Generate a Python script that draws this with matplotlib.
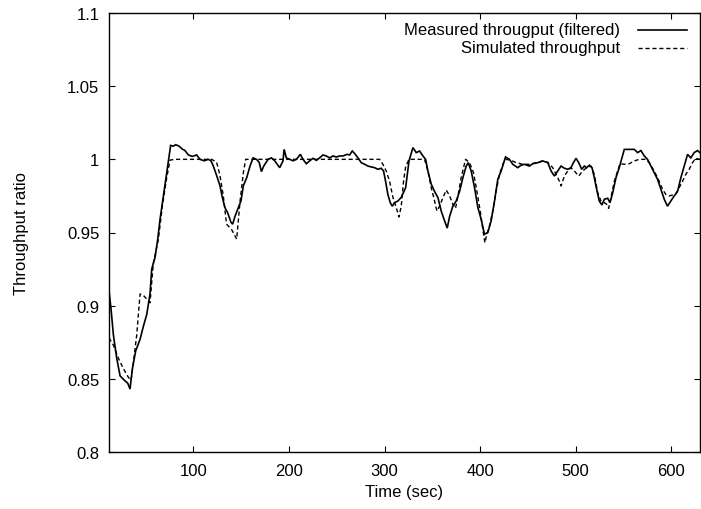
import matplotlib
matplotlib.use("Agg")
import matplotlib.pyplot as plt
from matplotlib.ticker import FormatStrFormatter, FuncFormatter

plt.rcParams['font.family'] = ['Liberation Sans', 'DejaVu Sans']

# measured throughput (filtered)
meas_t = [11.6, 13.7, 16.2, 19.7, 23.2, 27.7, 31.2, 33.6, 36.1, 39.5, 44.1, 47.6,
          51.1, 54.5, 56.3, 59.8, 62.5, 65.0, 68.5, 72.0, 76.1, 78.9, 81.4, 84.9,
          88.3, 91.1, 94.6, 98.8, 103.3, 106.8, 111.3, 115.5, 118.3, 120.7, 124.2,
          127.7, 130.2, 132.9, 135.7, 139.2, 141.0, 143.4, 146.9, 149.7, 152.2,
          155.7, 159.2, 162.4, 165.9, 168.7, 171.1, 173.5, 178.1, 181.5, 185.0,
          190.2, 193.7, 194.8, 197.2, 200.7, 204.2, 207.7, 211.8, 214.6, 218.1,
          221.6, 225.1, 228.6, 232.0, 235.5, 239.0, 242.5, 246.0, 249.5, 252.9,
          256.4, 260.6, 263.4, 266.2, 268.6, 272.1, 275.6, 279.1, 282.6, 286.0,
          289.5, 293.0, 296.5, 298.9, 301.0, 303.4, 305.9, 308.0, 310.4, 313.9,
          317.4, 319.8, 322.0, 325.5, 329.6, 333.1, 336.6, 340.1, 342.9, 345.3,
          348.8, 352.3, 355.8, 359.2, 362.7, 365.5, 368.0, 371.4, 374.9, 378.4,
          381.9, 385.4, 387.5, 390.6, 394.1, 397.6, 401.0, 404.5, 408.0, 411.5,
          415.0, 418.4, 421.9, 426.5, 430.6, 434.1, 439.3, 442.8, 446.3, 451.5,
          455.0, 460.2, 465.5, 470.7, 474.2, 477.6, 481.1, 484.6, 488.1, 491.6,
          495.0, 497.5, 500.3, 503.1, 506.2, 509.0, 511.4, 514.2, 517.0, 519.4,
          521.9, 524.6, 527.4, 529.9, 533.4, 535.8, 538.6, 542.1, 545.5, 548.3,
          550.8, 556.0, 561.2, 564.7, 568.2, 571.7, 575.1, 578.6, 582.1, 585.6,
          589.1, 592.6, 596.0, 599.5, 603.0, 606.5, 610.0, 613.5, 617.0, 620.4,
          623.9, 627.4, 629.8]
meas_v = [0.910, 0.898, 0.880, 0.864, 0.852, 0.849, 0.847, 0.843, 0.857, 0.869,
          0.877, 0.886, 0.894, 0.908, 0.925, 0.933, 0.945, 0.959, 0.975, 0.991,
          1.0095, 1.009, 1.010, 1.009, 1.007, 1.006, 1.003, 1.002, 1.003, 1.000,
          0.999, 1.000, 0.999, 0.9955, 0.989, 0.982, 0.974, 0.967, 0.9636, 0.957,
          0.9557, 0.961, 0.967, 0.9716, 0.982, 0.9875, 0.9955, 1.001, 1.000,
          0.998, 0.9916, 0.9954, 1.000, 1.001, 0.999, 0.9943, 0.999, 1.0068,
          1.001, 1.000, 0.999, 1.000, 1.0034, 1.000, 0.997, 0.999, 1.0007,
          0.9993, 1.001, 1.003, 1.0023, 1.001, 1.0023, 1.0016, 1.0023, 1.0023,
          1.0034, 1.003, 1.0057, 1.004, 1.001, 0.9977, 0.9966, 0.9954, 0.9948,
          0.9943, 0.9932, 0.9939, 0.992, 0.985, 0.976, 0.9704, 0.968, 0.9704,
          0.9715, 0.974, 0.9775, 0.9806, 0.9989, 1.008, 1.0046, 1.0057, 1.0023,
          1.000, 0.992, 0.983, 0.978, 0.9738, 0.9647, 0.958, 0.953, 0.961,
          0.968, 0.9715, 0.978, 0.9875, 0.9954, 0.9977, 0.992, 0.9806, 0.967,
          0.959, 0.9488, 0.950, 0.958, 0.9715, 0.9863, 0.992, 1.0016, 1.000,
          0.9966, 0.9943, 0.996, 0.9966, 0.9954, 0.997, 0.9977, 0.9989, 0.9977,
          0.992, 0.9886, 0.992, 0.9954, 0.9939, 0.9932, 0.9943, 0.9977, 1.0007,
          0.9977, 0.9932, 0.9954, 0.9943, 0.996, 0.9943, 0.9875, 0.9795, 0.9715,
          0.9688, 0.9727, 0.9734, 0.9704, 0.977, 0.9875, 0.9943, 1.001, 1.0068,
          1.0068, 1.0068, 1.0046, 1.006, 1.0023, 1.000, 0.9954, 0.9909, 0.9863,
          0.9795, 0.9727, 0.968, 0.9715, 0.975, 0.978, 0.9875, 0.9954, 1.0034,
          1.001, 1.0046, 1.006, 1.0046]

# simulated throughput
sim_t = [11.6, 16.2, 21.5, 26.6, 31.9, 34.6, 37.1, 40.6, 44.1, 47.6, 51.1, 54.5,
         58.0, 63.2, 67.4, 72.0, 75.5, 80.7, 119.0, 124.2, 127.7, 131.2, 134.6,
         139.9, 145.2, 148.6, 152.2, 154.6, 294.7, 298.2, 301.7, 305.2, 308.7,
         312.2, 315.0, 317.4, 319.8, 322.0, 325.5, 341.8, 345.3, 348.8, 352.3,
         354.7, 357.5, 361.0, 364.5, 368.0, 371.4, 374.2, 376.7, 380.1, 384.7,
         388.8, 393.0, 396.5, 400.0, 402.8, 404.9, 407.0, 409.7, 413.2, 416.7,
         420.2, 424.4, 427.2, 432.4, 437.6, 444.6, 451.5, 458.5, 465.5, 470.7,
         475.9, 479.4, 482.9, 484.6, 488.1, 491.6, 495.0, 498.5, 503.1, 507.2,
         511.4, 515.9, 519.4, 522.9, 526.4, 529.9, 532.3, 534.4, 536.8, 540.3,
         543.8, 546.2, 550.8, 556.0, 561.2, 566.4, 573.4, 576.9, 582.1, 587.3,
         590.8, 594.3, 597.8, 601.3, 604.8, 608.2, 611.7, 615.2, 618.7, 622.1,
         625.6, 629.8]
sim_v = [0.878, 0.873, 0.864, 0.857, 0.851, 0.849, 0.861, 0.880, 0.908, 0.907,
         0.9045, 0.902, 0.929, 0.945, 0.968, 0.9875, 0.9995, 1.000, 1.000, 0.998,
         0.989, 0.975, 0.9557, 0.952, 0.9455, 0.9705, 0.991, 1.000, 1.000,
         0.9966, 0.992, 0.985, 0.974, 0.967, 0.9606, 0.968, 0.985, 0.995, 1.000,
         1.000, 0.992, 0.9806, 0.9715, 0.9647, 0.968, 0.9738, 0.979, 0.975,
         0.9693, 0.9665, 0.975, 0.9875, 1.000, 0.9977, 0.9909, 0.9784, 0.9647,
         0.952, 0.943, 0.9488, 0.9545, 0.9647, 0.9784, 0.9898, 0.9977, 1.000,
         0.9993, 0.9977, 0.9966, 0.9966, 0.9977, 0.9989, 0.998, 0.9943, 0.9898,
         0.985, 0.9818, 0.9886, 0.992, 0.9943, 0.992, 0.9886, 0.992, 0.9943,
         0.9954, 0.9898, 0.9772, 0.9715, 0.9704, 0.9693, 0.9665, 0.9738, 0.985,
         0.992, 0.997, 0.9966, 0.997, 0.9989, 1.000, 1.000, 0.9977, 0.992,
         0.985, 0.9795, 0.976, 0.975, 0.9756, 0.9766, 0.9806, 0.985, 0.9898,
         0.9932, 0.9977, 1.0007, 1.000]

x_ticks = [100, 200, 300, 400, 500, 600]
y_ticks = [0.8, 0.85, 0.9, 0.95, 1.0, 1.05, 1.1]

fig = plt.figure(figsize=(7.01, 5.10), dpi=100)
ax = fig.add_axes([109 / 701, 57 / 510, 591 / 701, 439 / 510])

ax.plot(meas_t, meas_v, color='black', lw=1.2, solid_joinstyle='miter')
ax.plot(sim_t, sim_v, color='black', lw=1.0, dashes=(3, 2))

ax.set_xlim(11.6, 630)
ax.set_ylim(0.8, 1.1)
ax.set_xticks(x_ticks)
ax.set_yticks(y_ticks)
ax.yaxis.set_major_formatter(FuncFormatter(lambda v, p: '%g' % round(v, 2)))
ax.tick_params(direction='in', length=4.5, width=0.8, top=True, right=True,
               labelsize=12, pad=7)
ax.tick_params(axis='x', pad=8)
for s in ax.spines.values():
    s.set_linewidth(1.0)

ax.set_xlabel('Time (sec)', fontsize=12)
ax.set_ylabel('Throughput ratio', fontsize=12)
ax.xaxis.set_label_coords(0.5, -0.073)
ax.yaxis.set_label_coords(-0.135, 0.5)

# gnuplot-style key, text right-aligned left of the line samples
labels = ['Measured througput (filtered)', 'Simulated throughput']
styles = [dict(lw=1.2), dict(lw=1.0, dashes=(3, 2))]
for i, (lab, st) in enumerate(zip(labels, styles)):
    yk = 1 - (17 + 18 * i) / 439
    ax.text((620 - 109) / 591, yk, lab, transform=ax.transAxes, ha='right',
            va='center', fontsize=12)
    ax.plot([(638 - 109) / 591, (687 - 109) / 591], [yk, yk], color='black',
            transform=ax.transAxes, **st)

fig.savefig('out.png', dpi=100)
